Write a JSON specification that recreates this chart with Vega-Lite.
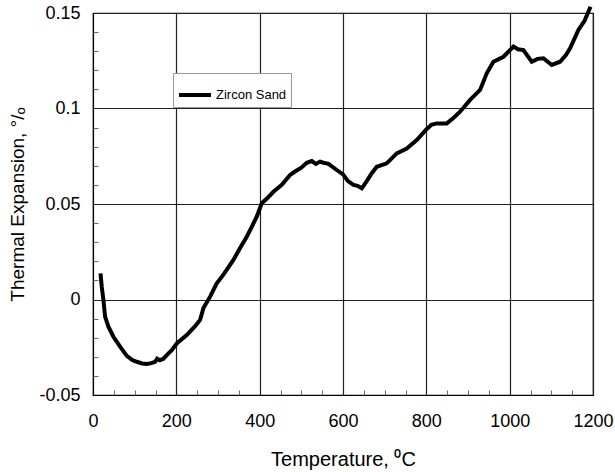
{
  "$schema": "https://vega.github.io/schema/vega-lite/v6.json",
  "width": 500,
  "height": 382,
  "autosize": {"type": "none"},
  "padding": {"left": 93, "top": 13, "right": 22, "bottom": 77},
  "background": "white",
  "config": {
    "view": {"stroke": "black", "strokeWidth": 1.2},
    "font": "Liberation Sans",
    "axis": {
      "labelFont": "Liberation Sans",
      "titleFont": "Liberation Sans",
      "labelColor": "black",
      "titleColor": "black",
      "titleFontWeight": "normal",
      "labelFontSize": 18,
      "titleFontSize": 20,
      "domainColor": "black",
      "gridColor": "#222",
      "gridOpacity": 1,
      "gridWidth": 1.2
    }
  },
  "data": {
    "values": [
      {"t": 18, "v": 0.0137, "s": "Zircon Sand"},
      {"t": 21, "v": 0.0067, "s": "Zircon Sand"},
      {"t": 25, "v": -0.0003, "s": "Zircon Sand"},
      {"t": 29, "v": -0.009, "s": "Zircon Sand"},
      {"t": 37, "v": -0.0142, "s": "Zircon Sand"},
      {"t": 49, "v": -0.0195, "s": "Zircon Sand"},
      {"t": 65, "v": -0.0247, "s": "Zircon Sand"},
      {"t": 81, "v": -0.0295, "s": "Zircon Sand"},
      {"t": 95, "v": -0.0318, "s": "Zircon Sand"},
      {"t": 105, "v": -0.0326, "s": "Zircon Sand"},
      {"t": 118, "v": -0.0335, "s": "Zircon Sand"},
      {"t": 129, "v": -0.0338, "s": "Zircon Sand"},
      {"t": 140, "v": -0.0333, "s": "Zircon Sand"},
      {"t": 149, "v": -0.0326, "s": "Zircon Sand"},
      {"t": 154, "v": -0.031, "s": "Zircon Sand"},
      {"t": 160, "v": -0.0318, "s": "Zircon Sand"},
      {"t": 169, "v": -0.031, "s": "Zircon Sand"},
      {"t": 180, "v": -0.0285, "s": "Zircon Sand"},
      {"t": 189, "v": -0.0265, "s": "Zircon Sand"},
      {"t": 201, "v": -0.023, "s": "Zircon Sand"},
      {"t": 225, "v": -0.0186, "s": "Zircon Sand"},
      {"t": 245, "v": -0.014, "s": "Zircon Sand"},
      {"t": 257, "v": -0.0107, "s": "Zircon Sand"},
      {"t": 265, "v": -0.0045, "s": "Zircon Sand"},
      {"t": 281, "v": 0.0015, "s": "Zircon Sand"},
      {"t": 297, "v": 0.0085, "s": "Zircon Sand"},
      {"t": 313, "v": 0.013, "s": "Zircon Sand"},
      {"t": 337, "v": 0.0207, "s": "Zircon Sand"},
      {"t": 353, "v": 0.027, "s": "Zircon Sand"},
      {"t": 369, "v": 0.0329, "s": "Zircon Sand"},
      {"t": 381, "v": 0.038, "s": "Zircon Sand"},
      {"t": 393, "v": 0.0434, "s": "Zircon Sand"},
      {"t": 405, "v": 0.0504, "s": "Zircon Sand"},
      {"t": 418, "v": 0.053, "s": "Zircon Sand"},
      {"t": 433, "v": 0.0564, "s": "Zircon Sand"},
      {"t": 453, "v": 0.06, "s": "Zircon Sand"},
      {"t": 473, "v": 0.0652, "s": "Zircon Sand"},
      {"t": 485, "v": 0.067, "s": "Zircon Sand"},
      {"t": 500, "v": 0.069, "s": "Zircon Sand"},
      {"t": 513, "v": 0.0716, "s": "Zircon Sand"},
      {"t": 525, "v": 0.0725, "s": "Zircon Sand"},
      {"t": 535, "v": 0.071, "s": "Zircon Sand"},
      {"t": 545, "v": 0.0722, "s": "Zircon Sand"},
      {"t": 553, "v": 0.0716, "s": "Zircon Sand"},
      {"t": 565, "v": 0.071, "s": "Zircon Sand"},
      {"t": 585, "v": 0.0678, "s": "Zircon Sand"},
      {"t": 600, "v": 0.0655, "s": "Zircon Sand"},
      {"t": 612, "v": 0.062, "s": "Zircon Sand"},
      {"t": 625, "v": 0.06, "s": "Zircon Sand"},
      {"t": 635, "v": 0.0595, "s": "Zircon Sand"},
      {"t": 645, "v": 0.0582, "s": "Zircon Sand"},
      {"t": 657, "v": 0.062, "s": "Zircon Sand"},
      {"t": 669, "v": 0.0661, "s": "Zircon Sand"},
      {"t": 681, "v": 0.0695, "s": "Zircon Sand"},
      {"t": 705, "v": 0.0713, "s": "Zircon Sand"},
      {"t": 729, "v": 0.0765, "s": "Zircon Sand"},
      {"t": 753, "v": 0.079, "s": "Zircon Sand"},
      {"t": 777, "v": 0.0835, "s": "Zircon Sand"},
      {"t": 800, "v": 0.089, "s": "Zircon Sand"},
      {"t": 812, "v": 0.0915, "s": "Zircon Sand"},
      {"t": 825, "v": 0.0922, "s": "Zircon Sand"},
      {"t": 849, "v": 0.0922, "s": "Zircon Sand"},
      {"t": 865, "v": 0.095, "s": "Zircon Sand"},
      {"t": 881, "v": 0.0983, "s": "Zircon Sand"},
      {"t": 905, "v": 0.1045, "s": "Zircon Sand"},
      {"t": 929, "v": 0.1097, "s": "Zircon Sand"},
      {"t": 945, "v": 0.1184, "s": "Zircon Sand"},
      {"t": 961, "v": 0.1245, "s": "Zircon Sand"},
      {"t": 985, "v": 0.1271, "s": "Zircon Sand"},
      {"t": 1009, "v": 0.1324, "s": "Zircon Sand"},
      {"t": 1020, "v": 0.131, "s": "Zircon Sand"},
      {"t": 1033, "v": 0.1306, "s": "Zircon Sand"},
      {"t": 1053, "v": 0.1245, "s": "Zircon Sand"},
      {"t": 1067, "v": 0.126, "s": "Zircon Sand"},
      {"t": 1081, "v": 0.1263, "s": "Zircon Sand"},
      {"t": 1101, "v": 0.1228, "s": "Zircon Sand"},
      {"t": 1121, "v": 0.1245, "s": "Zircon Sand"},
      {"t": 1135, "v": 0.128, "s": "Zircon Sand"},
      {"t": 1145, "v": 0.1315, "s": "Zircon Sand"},
      {"t": 1165, "v": 0.1411, "s": "Zircon Sand"},
      {"t": 1180, "v": 0.146, "s": "Zircon Sand"},
      {"t": 1194, "v": 0.1533, "s": "Zircon Sand"}
    ]
  },
  "layer": [
    {
      "mark": {"type": "line", "strokeWidth": 4, "clip": false},
      "encoding": {
        "x": {
          "field": "t", "type": "quantitative",
          "scale": {"domain": [0, 1200], "nice": false},
          "axis": {
            "title": "Temperature, ⁰C",
            "values": [0, 200, 400, 600, 800, 1000, 1200],
            "format": "d",
            "grid": true, "ticks": false, "labelPadding": 17,
            "titlePadding": 19, "labelFlush": false
          }
        },
        "y": {
          "field": "v", "type": "quantitative",
          "scale": {"domain": [-0.05, 0.15], "nice": false, "zero": false},
          "axis": {
            "title": "Thermal Expansion,  °/ₒ",
            "titleFontSize": 19,
            "values": [-0.05, 0, 0.05, 0.1, 0.15],
            "labelExpr": "replace(format(datum.value, '.2~f'), '−', '-')",
            "grid": true, "ticks": false, "labelPadding": 13,
            "titlePadding": 11, "labelFlush": false
          }
        },
        "color": {
          "field": "s", "type": "nominal",
          "scale": {"range": ["black"]},
          "legend": {
            "title": null,
            "orient": "none",
            "legendX": 80,
            "legendY": 60,
            "symbolType": "stroke",
            "symbolSize": 1024,
            "symbolStrokeWidth": 4,
            "labelFont": "Liberation Sans",
            "labelFontSize": 13,
            "labelOffset": 3,
            "labelColor": "black",
            "strokeColor": "#999",
            "fillColor": "white",
            "padding": 4
          }
        }
      }
    },
    {
      "mark": {"type": "line", "opacity": 0},
      "encoding": {
        "x": {
          "field": "t", "type": "quantitative",
          "axis": {
            "values": [50, 100, 150, 250, 300, 350, 450, 500, 550, 650, 700, 750, 850, 900, 950, 1050, 1100, 1150],
            "title": null, "labels": false, "grid": false, "domain": false,
            "ticks": true, "tickSize": -5, "tickColor": "#666", "orient": "bottom"
          }
        },
        "y": {
          "field": "v", "type": "quantitative",
          "axis": {
            "values": [-0.04, -0.03, -0.02, -0.01, 0.01, 0.02, 0.03, 0.04, 0.06, 0.07, 0.08, 0.09, 0.11, 0.12, 0.13, 0.14],
            "title": null, "labels": false, "grid": false, "domain": false,
            "ticks": true, "tickSize": -5, "tickColor": "#666", "orient": "left"
          }
        }
      }
    }
  ],
  "resolve": {"axis": {"x": "independent", "y": "independent"}}
}
